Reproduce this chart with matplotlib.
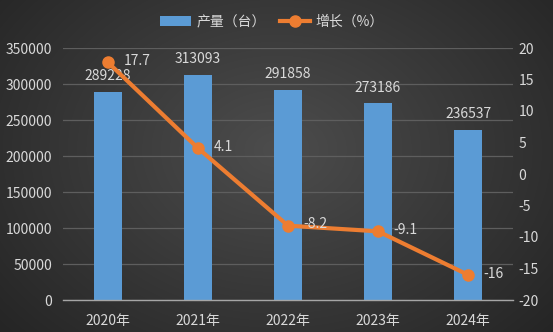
import numpy as np
import matplotlib
matplotlib.use("Agg")
import matplotlib.pyplot as plt
from matplotlib.lines import Line2D
from matplotlib.patches import Patch

plt.rcParams['font.family'] = ['Noto Sans CJK SC', 'DejaVu Sans']
plt.rcParams['axes.unicode_minus'] = False

years = ["2020年", "2021年", "2022年", "2023年", "2024年"]
output = [289228, 313093, 291858, 273186, 236537]
growth = [17.7, 4.1, -8.2, -9.1, -16]
growth_labels = ["17.7", "4.1", "-8.2", "-9.1", "-16"]

W, H = 553, 332
fig = plt.figure(figsize=(W / 100, H / 100), dpi=100)

# radial gradient background
bg = fig.add_axes([0, 0, 1, 1], zorder=-10)
yy, xx = np.mgrid[0:H, 0:W]
r = np.sqrt(((xx - W * 0.5) / (W * 0.6)) ** 2 + ((yy - H * 0.45) / (H * 0.75)) ** 2)
v = np.clip(0.30 - 0.14 * r, 0.13, 0.31)
img = np.dstack([v, v, v])
bg.imshow(img, aspect='auto', extent=[0, 1, 0, 1])
bg.set_xlim(0, 1)
bg.set_ylim(0, 1)
bg.axis('off')

txt = '#d9d9d9'
ax = fig.add_axes([63 / W, 1 - 300 / H, (513 - 63) / W, (300 - 48) / H])
ax.patch.set_alpha(0)
x = np.arange(len(years))
bars = ax.bar(x, output, width=0.31, color='#5b9bd5', zorder=2)
ax.set_xlim(-0.5, len(years) - 0.5)
ax.set_ylim(0, 350000)
ax.set_yticks(np.arange(0, 350001, 50000))
ax.set_xticks(x)
ax.set_xticklabels(years)
ax.grid(axis='y', color='#5e5e5e', linewidth=0.9, zorder=0)
for s in ['top', 'right', 'left']:
    ax.spines[s].set_visible(False)
ax.spines['bottom'].set_color('#a6a6a6')
ax.spines['bottom'].set_linewidth(1.0)
ax.tick_params(axis='both', length=0, colors=txt, labelsize=10)
ax.tick_params(axis='y', pad=8)
ax.tick_params(axis='x', pad=10)
for xi, val in zip(x, output):
    ax.text(xi, val + 12000, str(val), ha='center', va='bottom', color=txt, fontsize=10)

ax2 = ax.twinx()
ax2.set_ylim(-20, 20)
ax2.set_yticks(np.arange(-20, 21, 5))
for s in ['top', 'right', 'left', 'bottom']:
    ax2.spines[s].set_visible(False)
ax2.tick_params(axis='y', length=0, colors=txt, labelsize=10, pad=4)
ax2.plot(x, growth, color='#ed7d31', linewidth=3, marker='o', markersize=8, zorder=3)
for xi, g, lab in zip(x, growth, growth_labels):
    ax2.text(xi + 0.17, g + 0.2, lab, ha='left', va='center', color=txt, fontsize=10)

handles = [Patch(facecolor='#5b9bd5', label='产量（台）'),
           Line2D([0], [0], color='#ed7d31', linewidth=3, marker='o', markersize=8, label='增长（%）')]
fig.legend(handles=handles, loc='center', bbox_to_anchor=(272 / W, 1 - 22 / H), ncol=2,
           frameon=False, labelcolor=txt, fontsize=10, handlelength=2.2, columnspacing=1.0,
           handletextpad=0.4)

fig.savefig('out.png', dpi=100)
